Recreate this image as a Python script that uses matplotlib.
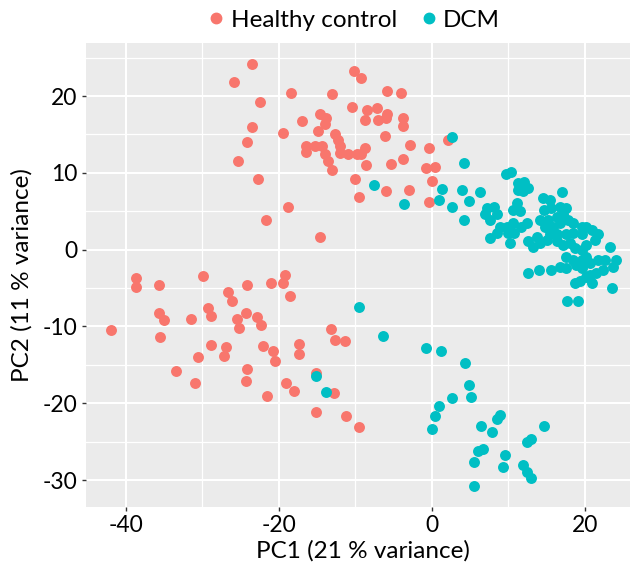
import numpy as np
import matplotlib
matplotlib.use("Agg")
import matplotlib.pyplot as plt
from matplotlib.lines import Line2D

# PCA scores
healthy_pc1 = [-23.5, -25.9, -22.5, -23.5, -24.2, -25.3, -22.7,
               -10.2, -9.2, -18.4, -13.0, -5.8, -4.0,
               -10.4, -8.5, -7.2, -5.8, -8.7, -7.0, -6.0, -3.8, -3.8,
               -17.0, -14.6, -13.8, -13.9, -14.9, -19.4, -12.7, -12.2, -6.1,
               -16.4, -15.3, -14.4, -16.4, -12.0, -12.0, -10.9, -9.8, -8.8, -9.2,
               -14.0, -13.6, -13.1, -8.6, -5.3, -3.8, -2.8, -0.4, -0.7, 0.4, 0.0, 2.1,
               -10.0, -6.0, -3.0, -9.5, -0.4,
               -21.7, -18.8, -14.6,
               -19.2, -21.0, -19.4, -18.5, -13.2, -12.6, -11.4, -17.3, -17.3, -20.7,
               -20.5, -15.2, -19.1, -18.0, -12.8, -15.2, -11.2, -9.5,
               -38.7, -38.6, -35.7, -29.9, -24.1, -26.7, -26.1, -35.6, -35.0, -31.5,
               -29.3, -28.8, -25.5, -25.2, -24.3, -22.9, -22.3, -41.9, -35.5, -28.8,
               -26.9, -27.2, -30.5, -22.1, -33.5, -30.9, -24.1, -24.3, -21.6]
healthy_pc2 = [24.2, 21.8, 19.2, 16.0, 14.0, 11.6, 9.2,
               23.2, 22.4, 20.4, 20.2, 20.6, 20.4,
               18.6, 18.2, 18.4, 17.6, 16.9, 16.9, 17.1, 17.1, 16.1,
               16.8, 17.7, 17.1, 16.3, 15.4, 15.2, 15.0, 14.3, 14.8,
               13.5, 13.5, 13.5, 12.7, 13.5, 12.6, 12.4, 12.4, 13.2, 12.4,
               12.4, 11.5, 10.4, 11.0, 11.2, 11.8, 13.6, 13.2, 10.6, 10.8, 9.0, 14.3,
               9.2, 7.6, 7.8, 6.9, 6.2,
               3.9, 5.6, 1.7,
               -3.3, -4.3, -4.3, -6.0, -10.3, -11.7, -11.9, -12.3, -13.6, -13.2,
               -14.5, -16.1, -17.4, -18.4, -18.6, -21.1, -21.7, -23.1,
               -3.7, -4.9, -4.6, -3.4, -4.6, -5.5, -6.7, -8.3, -9.1, -9.0,
               -7.6, -8.6, -9.0, -10.2, -8.3, -8.7, -9.8, -10.5, -11.4, -12.4,
               -12.7, -13.8, -14.0, -12.6, -15.8, -17.4, -15.5, -17.1, -19.1]

dcm_pc1 = [9.7, 10.3, 11.3, 12.0, 11.2, 11.9, 12.6, 14.5, 15.4, 17.0,
           7.2, 8.1, 6.9, 8.5, 7.6, 11.1, 10.6, 11.5, 8.9, 9.8,
           10.6, 10.0, 10.8, 11.7, 12.4, 7.6, 8.5, 10.2, 14.6, 15.6,
           16.7, 17.6, 17.2, 16.3, 15.2, 14.1, 14.8, 15.9, 16.7, 17.8,
           18.5, 19.6, 20.2, 20.9, 21.7, 19.6, 18.5, 17.6, 16.3, 15.4,
           13.7, 12.6, 13.2, 14.1, 15.0, 16.3, 17.2, 18.0, 18.7, 19.6,
           20.2, 21.3, 23.3, 17.6, 18.5, 19.6, 20.2, 12.6, 14.0, 15.6,
           16.7, 17.6, 18.9, 19.6, 20.7, 21.7, 22.6, 24.1, 23.7, 22.4,
           21.5, 20.7, 20.9, 19.3, 18.7, 20.2, 23.5, 17.7, 19.1,
           2.6, 4.2, -3.6, 1.3, 1.0, 4.0, 4.8, 6.3, 2.6, 4.2, -7.6,
           -9.5, -6.4, -15.2, -13.8,
           -0.8, 1.2, 4.4, 4.8, 5.1, 2.6, 1.0, 0.4, 0.0, 8.9,
           8.5, 6.4, 7.9, 14.6, 13.0, 12.4, 6.7, 6.0, 5.5, 9.5,
           9.3, 11.9, 12.4, 12.9, 5.5]
dcm_pc2 = [9.9, 10.1, 8.7, 8.8, 7.8, 7.6, 8.0, 6.7, 6.5, 7.5,
           5.4, 5.6, 4.7, 4.7, 3.9, 6.1, 5.2, 5.0, 3.0, 3.0,
           3.5, 2.2, 2.2, 3.0, 3.5, 1.5, 2.2, 0.9, 5.2, 5.4,
           5.6, 5.4, 4.6, 4.3, 3.9, 3.9, 3.0, 3.0, 3.5, 3.9,
           3.5, 3.0, 3.0, 2.6, 2.0, 2.0, 2.2, 2.0, 2.0, 2.0,
           1.7, 1.1, 0.4, 0.9, 1.3, 1.1, 0.6, 0.9, 0.2, 0.0,
           0.6, 1.3, 0.4, -0.9, -1.3, -1.3, -0.9, -3.1, -2.6, -2.6,
           -2.2, -2.4, -2.0, -2.4, -1.7, -1.3, -1.3, -1.3, -2.2, -2.6,
           -3.0, -3.3, -4.3, -4.1, -4.3, -3.5, -5.0, -6.7, -6.7,
           14.7, 11.3, 6.0, 7.9, 6.5, 7.8, 6.4, 7.5, 5.5, 3.8, 8.4,
           -7.4, -11.2, -16.5, -18.5,
           -12.8, -13.2, -14.8, -17.6, -19.2, -19.3, -20.3, -21.6, -23.3, -21.5,
           -22.1, -22.9, -23.7, -22.9, -24.7, -25.0, -25.9, -26.2, -27.6, -26.7,
           -28.3, -28.0, -28.9, -29.7, -30.7]

red = "#F8766D"
teal = "#00BFC4"

plt.rcParams['font.family'] = ['Lato', 'DejaVu Sans']
plt.rcParams['axes.unicode_minus'] = False

fig = plt.figure(figsize=(6.3, 5.66), dpi=100)
ax = fig.add_axes([0.1365, 0.1042, 0.8635, 0.8198])
ax.set_facecolor("#EBEBEB")
for s in ax.spines.values():
    s.set_visible(False)

ax.scatter(healthy_pc1, healthy_pc2, s=62, color=red, linewidths=0, zorder=3)
ax.scatter(dcm_pc1, dcm_pc2, s=62, color=teal, linewidths=0, zorder=3)

ax.set_xlim(-45.2, 25.9)
ax.set_ylim(-33.5, 26.9)
ax.set_xticks([-40, -20, 0, 20])
ax.set_yticks([-30, -20, -10, 0, 10, 20])
ax.set_xticks([-30, -10, 10], minor=True)
ax.set_yticks([-25, -15, -5, 5, 15, 25], minor=True)
ax.grid(which="major", color="white", linewidth=1.5, zorder=0)
ax.grid(which="minor", color="white", linewidth=0.9, zorder=0)
ax.set_axisbelow(True)
ax.tick_params(which="major", length=3, width=1, color="#333333",
               labelsize=16.5, labelcolor="black", pad=3)
ax.tick_params(which="minor", length=0)

ax.set_xlabel("PC1 (21 % variance)", fontsize=17.5)
ax.set_ylabel("PC2 (11 % variance)", fontsize=17.5)
ax.xaxis.set_label_coords((363 - 86) / 544, -0.072)
ax.yaxis.set_label_coords(-0.098, 0.5)

handles = [Line2D([], [], marker="o", linestyle="", color=red, markersize=7.5),
           Line2D([], [], marker="o", linestyle="", color=teal, markersize=7.5)]
fig.legend(handles, ["Healthy control", "DCM"], loc="center",
           bbox_to_anchor=(352 / 630, 1 - 20 / 566), ncol=2, frameon=False,
           fontsize=17.5, handletextpad=0.1, columnspacing=0.8, handlelength=1.0)

fig.savefig("out.png", dpi=100)
